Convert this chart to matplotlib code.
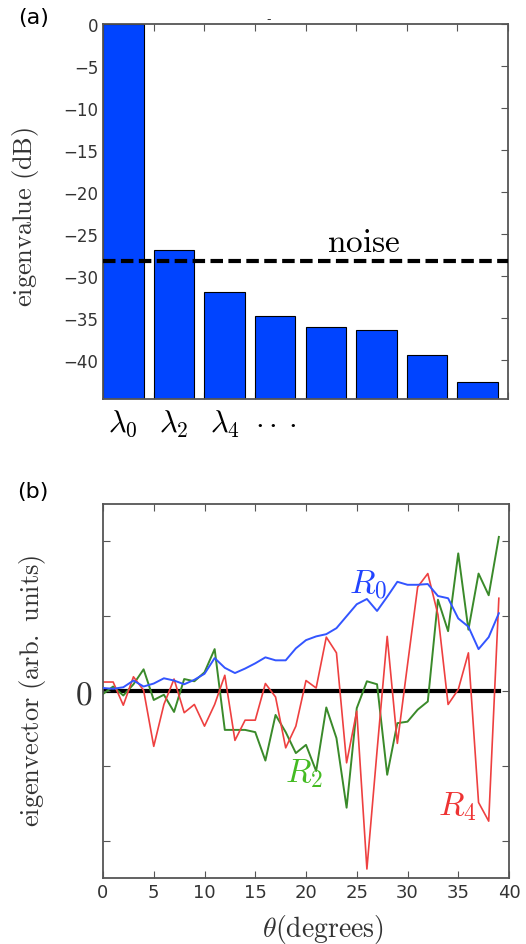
import numpy as np
import matplotlib
matplotlib.use("Agg")
import matplotlib.pyplot as plt

plt.rcParams['mathtext.fontset'] = 'cm'
plt.rcParams['font.family'] = ['DejaVu Sans']

# (a) eigenvalues in dB
eig_db = [0.0, -26.9, -31.9, -34.8, -36.1, -36.5, -39.4, -42.7]
eig_labels = [r'$\lambda_0$', r'$\lambda_2$', r'$\lambda_4$', r'$\cdot\cdot\cdot$']
noise_db = -28.2

# (b) eigenvectors vs theta
theta = list(range(40))
r0 = [0.04, 0.03, 0.05, 0.14, 0.06, 0.10, 0.17, 0.14, 0.09, 0.15,
      0.23, 0.44, 0.31, 0.24, 0.30, 0.37, 0.45, 0.41, 0.41, 0.57,
      0.68, 0.73, 0.76, 0.84, 1.00, 1.16, 1.23, 1.07, 1.26, 1.46,
      1.42, 1.42, 1.43, 1.27, 1.24, 0.97, 0.86, 0.56, 0.72, 1.04]
r2 = [-0.04, 0.06, -0.06, 0.09, 0.29, -0.12, -0.05, -0.28, 0.16, 0.13,
      0.25, 0.56, -0.52, -0.52, -0.52, -0.55, -0.93, -0.32, -0.55, -0.83,
      -0.72, -1.07, -0.22, -0.63, -1.56, -0.23, 0.13, 0.09, -1.12, -0.43,
      -0.41, -0.25, -0.14, 1.22, 0.80, 1.84, 0.82, 1.57, 1.28, 2.06]
r4 = [0.12, 0.12, -0.19, 0.19, 0.01, -0.74, -0.18, 0.16, -0.29, -0.18,
      -0.47, -0.18, 0.21, -0.66, -0.39, -0.39, 0.10, -0.08, -0.76, -0.47,
      0.14, 0.04, 0.72, 0.51, -0.96, -0.27, -2.38, -0.80, 0.73, -0.70,
      0.35, 1.39, 1.57, 1.02, -0.18, 0.02, 0.51, -1.49, -1.74, 1.24]

W, H = 526, 945
fig = plt.figure(figsize=(W / 100, H / 100), dpi=100)

def box(l, t, r, b):
    return [l / W, 1 - b / H, (r - l) / W, (b - t) / H]

spine_col = '#555555'
tick_col = '#333333'

# ---------- panel (a) ----------
ax1 = fig.add_axes(box(103, 25, 508, 400))
base = -60
x = np.arange(len(eig_db))
ax1.bar(x, np.array(eig_db) - base, bottom=base, width=0.8, align='edge',
        color='#0044ff', edgecolor='black', linewidth=0.8, zorder=2)
ax1.axhline(noise_db, color='black', lw=3, dashes=(3, 1.3), zorder=3)
ax1.text(5.15, -25.9, r'$\mathrm{noise}$', fontsize=24, ha='center', va='center')
ax1.set_xlim(0, 8)
ax1.set_ylim(-44.7, 0)
ax1.set_yticks(np.arange(0, -41, -5))
ax1.set_xticks(np.arange(0, 9))
ax1.set_xticklabels([])
ax1.set_xticks(x[:len(eig_labels)] + 0.4, eig_labels, minor=True)
ax1.tick_params(axis='x', which='minor', length=0, pad=6, labelsize=22)
ax1.tick_params(which='major', direction='in', top=True, right=True,
                length=5, color=spine_col, labelsize=12, labelcolor=tick_col)
for s in ax1.spines.values():
    s.set_color(spine_col)
    s.set_linewidth(1.3)
fig.text(269 / W, 1 - 20 / H, '-', fontsize=9, ha='center', va='center', color='#333333')

# ---------- panel (b) ----------
ax2 = fig.add_axes(box(103, 505, 509, 879))
ax2.plot(theta, [0] * len(theta), color='black', lw=3, zorder=1)
ax2.plot(theta, r0, color='#3355ff', lw=1.4, zorder=3)
ax2.plot(theta, r2, color='#3a8a2a', lw=1.4, zorder=2)
ax2.plot(theta, r4, color='#ee4040', lw=1.2, zorder=2)
ax2.text(26.1, 1.44, r'$R_0$', color='#2244ff', fontsize=24, ha='center', va='center')
ax2.text(19.8, -1.09, r'$R_2$', color='#44bb22', fontsize=24, ha='center', va='center')
ax2.text(34.9, -1.53, r'$R_4$', color='#ee3333', fontsize=24, ha='center', va='center')
ax2.set_xlim(0, 40)
ax2.set_ylim(-2.5, 2.5)
ax2.set_xticks(np.arange(0, 41, 5))
ax2.set_yticks([-2, -1, 0, 1, 2])
ax2.set_yticklabels(['', '', r'$0$', '', ''], fontsize=24)
ax2.tick_params(direction='in', top=True, right=True, length=5,
                color=spine_col, labelcolor=tick_col)
ax2.tick_params(axis='x', labelsize=13)
ax2.tick_params(axis='y', pad=8)
for s in ax2.spines.values():
    s.set_color(spine_col)
    s.set_linewidth(1.3)

# labels
fig.text(26 / W, 1 - 217 / H, r'$\mathrm{eigenvalue\ (dB)}$', rotation=90,
         fontsize=19, ha='center', va='center', color='#333333')
fig.text(33 / W, 1 - 691 / H, r'$\mathrm{eigenvector\ (arb.\ units)}$', rotation=90,
         fontsize=19, ha='center', va='center', color='#333333')
fig.text(323 / W, 1 - 930 / H, r'$\theta\mathrm{(degrees)}$', fontsize=20,
         ha='center', va='center', color='#333333')
fig.text(34 / W, 1 - 18 / H, '(a)', fontsize=16, ha='center', va='center')
fig.text(33 / W, 1 - 492 / H, '(b)', fontsize=16, ha='center', va='center')

fig.savefig('out.png', dpi=100)
